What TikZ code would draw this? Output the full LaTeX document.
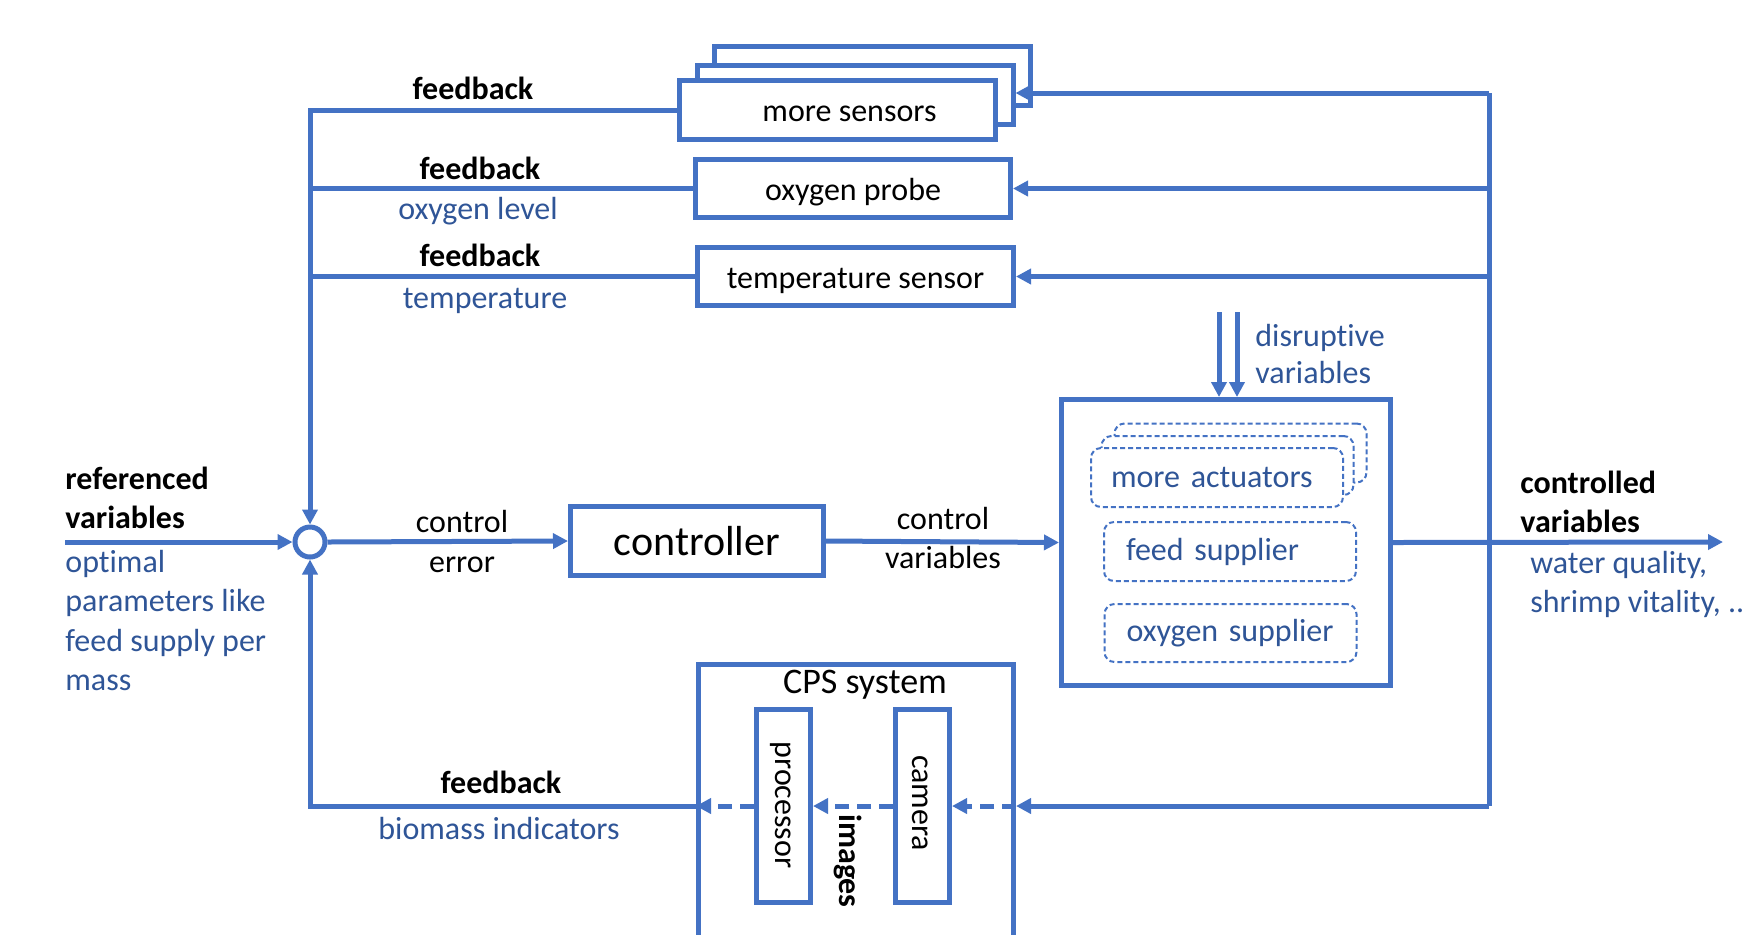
\documentclass[tikz,border=0pt]{standalone}
\usepackage{fontspec}
\setmainfont{Carlito}[Ligatures=NoCommon]
\usetikzlibrary{arrows.meta}
\definecolor{lblue}{RGB}{68,114,196}
\definecolor{tblue}{RGB}{47,85,151}
\begin{document}
\begin{tikzpicture}[x=0.5pt,y=-0.5pt,
 line/.style={draw=lblue,line width=2.5pt},
 arr/.style={line,-{Triangle[length=7.5pt,width=7.5pt]}},
 darr/.style={arr,dash pattern=on 7pt off 4pt},
 box/.style={draw=lblue,line width=2.5pt,fill=white,inner sep=0pt,font=\fontsize{16}{19}\selectfont},
 sbox/.style={box,text height=12.5pt,text depth=1pt},
 dbox/.style={draw=lblue,line width=1pt,dash pattern=on 2.5pt off 1.5pt,rounded corners=5pt,fill=white,
   inner xsep=10pt,inner ysep=0pt,text width=106pt,align=left,minimum height=29.5pt,
   text=tblue,font=\fontsize{16}{19}\selectfont},
 lab/.style={inner sep=0pt,font=\fontsize{16}{19}\selectfont,text height=0.66em,text depth=0.17em,yshift=-3.2pt},
 blab/.style={lab,font=\fontsize{16}{19}\selectfont\bfseries},
 tlab/.style={lab,text=tblue},
]
\useasboundingbox (0,0) rectangle (1746,934);

% sensor boxes
\node[sbox,minimum width=158pt,minimum height=29.5pt] (ms3) at (872,76) {};
\node[sbox,minimum width=158pt,minimum height=29.5pt] (ms2) at (855,94.5) {};
\node[sbox,minimum width=158pt,minimum height=29.5pt] (ms1) at (837.5,110) {\hspace*{12pt}more sensors};
\node[sbox,minimum width=157.5pt,minimum height=29pt] (probe) at (853,188.5) {oxygen probe};
\node[sbox,minimum width=158pt,minimum height=29pt] (temp) at (855.5,276.5) {temperature sensor};

% summing point and controller
\node[circle,draw=lblue,line width=2.5pt,fill=white,minimum size=15pt,inner sep=0pt] (sum) at (310,542) {};
\node[box,minimum width=126.5pt,minimum height=34.5pt,font=\fontsize{21}{25}\selectfont] (ctrl) at (697,541) {controller};

% plant
\node[box,minimum width=164.5pt,minimum height=143pt] (plant) at (1226,542.5) {};
\node[dbox] (ma3) at (1240.5,453) {};
\node[dbox] (ma2) at (1227.5,465.5) {};
\node[dbox] (ma1) at (1217,477.5) {more actuators};
\node[dbox] (feed) at (1230,551.5) {\hspace*{1pt}feed supplier};
\node[dbox,minimum height=29pt] (oxs) at (1230.5,633) {\hspace*{1pt}oxygen supplier};

% CPS system
\node[box,minimum width=157.5pt,minimum height=168pt] (cps) at (856,832) {};
\node[inner sep=0pt,font=\fontsize{18}{21}\selectfont] (cpslab) at (865,685) {CPS system};
\node[box,minimum width=27pt,minimum height=96.5pt] (proc) at (783.5,806) {};
\node[inner sep=0pt,rotate=-90,font=\fontsize{16}{19}\selectfont] (proct) at (781,805) {processor};
\node[box,minimum width=27pt,minimum height=96.5pt] (cam) at (922.5,806) {};
\node[inner sep=0pt,rotate=-90,font=\fontsize{16}{19}\selectfont] (camt) at (920,803) {camera};
\node[inner sep=0pt,rotate=-90,font=\fontsize{16}{19}\selectfont\bfseries] (img) at (848,861) {images};

% coordinates
\coordinate (refin) at (65,542);
\coordinate (tl) at (310,110);
\coordinate (bl) at (310,806);
\coordinate (rt) at (1489,93);
\coordinate (rb) at (1489,806);
\coordinate (out) at (1723,542);
\coordinate (d1) at (1219,312);
\coordinate (d2) at (1237,312);

% connectors
\draw[arr] (refin) -- (sum.west);
\draw[arr] (ms1.west) -- (tl) -- (sum.north);
\draw[line] (probe.west) -- (probe.west -| tl);
\draw[line] (temp.west) -- (temp.west -| tl);
\draw[arr] (sum.east) -- (ctrl.west);
\draw[arr] (ctrl.east) -- (plant.west);
\draw[arr] (plant.east) -- (out);
\draw[line] (rt) -- (rb);
\draw[arr] (rt) -- (rt -| ms2.east);
\draw[arr] (probe -| rt) -- (probe.east);
\draw[arr] (temp -| rt) -- (temp.east);
\draw[arr] (rb) -- (cam -| cps.east);
\draw[darr] (cam -| cps.east) -- (cam.east);
\draw[darr] (cam.west) -- (proc.east);
\draw[darr] (proc.west) -- (proc -| cps.west);
\draw[arr] (proc -| cps.west) -- (bl) -- (sum.south);
\draw[arr] (d1) -- (d1 |- plant.north);
\draw[arr] (d2) -- (d2 |- plant.north);

% labels
\node[blab] (fb1) at (473,88) {feedback};
\node[blab] (fb2) at (480,168) {feedback};
\node[tlab] (ol) at (478,208) {oxygen level};
\node[blab] (fb3) at (480,255) {feedback};
\node[tlab] (tp) at (485,297) {temperature};
\node[blab] (fb4) at (501,782) {feedback};
\node[tlab] (bi) at (499,828) {biomass indicators};
\node[lab] (ce1) at (462,521) {control};
\node[lab] (ce2) at (462,561) {error};
\node[lab] (cv1) at (943,518) {control};
\node[lab] (cv2) at (943,557) {variables};
\node[blab,anchor=west] (rv1) at (65,478) {referenced};
\node[blab,anchor=west] (rv2) at (65,517) {variables};
\node[tlab,anchor=west] (op1) at (65,561) {optimal};
\node[tlab,anchor=west] (op2) at (65,600) {parameters like};
\node[tlab,anchor=west] (op3) at (65,640) {feed supply per};
\node[tlab,anchor=west] (op4) at (65,679) {mass};
\node[blab,anchor=west] (cv3) at (1520,482) {controlled};
\node[blab,anchor=west] (cv4) at (1520,521) {variables};
\node[tlab,anchor=west] (wq) at (1530,562) {water quality,};
\node[tlab,anchor=west] (sv) at (1530,601) {shrimp vitality, ..};
\node[tlab,anchor=west] (dv1) at (1255,335) {disruptive};
\node[tlab,anchor=west] (dv2) at (1255,372) {variables};
\end{tikzpicture}
\end{document}
